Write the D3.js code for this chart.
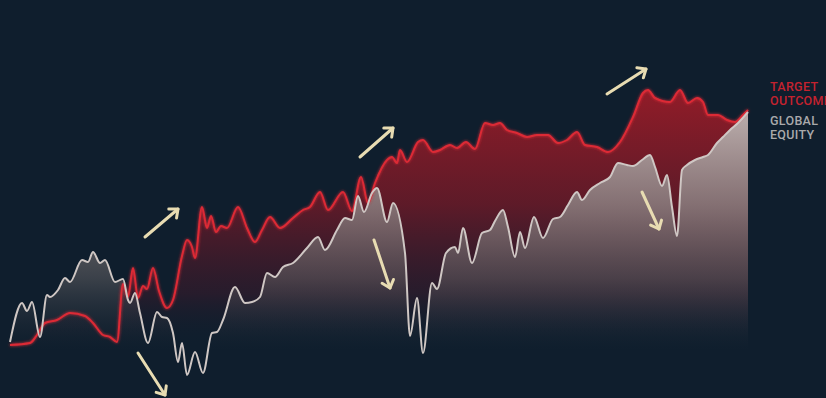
<!DOCTYPE html>
<html>
<head>
<meta charset="utf-8">
<script src="https://cdn.jsdelivr.net/npm/d3@7"></script>
<style>
  body { margin: 0; background: #0f1e2d; }
  svg { display: block; }
</style>
</head>
<body>
<div id="chart"></div>
<script>
// series: t = trading-day index, level = index level
const equityT = [0,12,17,22,30,37,40,48,55,60,72,78,83,90,95,105,113,118,120,125,130,138,147,152,157,163,168,172,177,185,193,202,207,213,225,235,242,250,257,265,273,283,297,308,315,327,335,342,348,354,362,367,377,383,395,400,407,413,422,427,436,445,448,453,462,472,480,485,493,498,505,510,515,524,533,543,550,558,567,572,580,590,600,608,617,623,632,640,645,652,657,662,667,672,677,685,693,698,707,713,720,728,738];
const equityLevel = [58,97,89,98,63,105,103,110,122,118,140,138,148,137,140,118,121,100,97,107,87,57,88,83,82,67,38,57,25,48,27,67,68,80,113,97,98,103,127,123,133,137,152,163,150,170,182,180,204,188,207,212,178,197,147,64,102,47,117,111,147,153,147,172,137,167,170,179,190,173,143,168,152,183,162,181,183,195,208,200,210,217,223,237,235,234,240,245,233,214,225,193,164,230,235,240,243,245,257,263,270,277,288];

const targetT = [0,20,27,35,47,60,75,83,93,100,107,113,118,123,128,133,137,143,149,157,163,172,177,182,185,192,197,201,206,211,217,228,237,245,252,260,270,283,293,300,310,318,333,342,351,358,365,377,382,387,390,397,408,413,423,430,440,447,456,465,475,483,490,497,507,517,527,538,548,557,567,575,587,598,610,623,633,638,645,660,670,678,687,693,698,708,717,725,733,738];
const targetLevel = [55,57,65,77,80,87,84,77,65,63,58,116,103,132,102,114,111,132,109,92,100,144,160,153,142,193,172,184,168,174,172,193,172,158,170,183,172,182,190,193,208,190,208,189,223,197,217,240,243,237,250,238,258,260,248,250,255,252,258,251,277,275,277,270,267,263,265,265,257,260,268,255,253,248,258,283,307,310,302,298,310,297,302,298,285,285,280,278,285,290];

// arrows: [t0, level0, t1, level1]
const arrows = [
  [135, 163, 168, 191],
  [128, 47, 155, 5],
  [350, 243, 383, 272],
  [364, 160, 380, 112],
  [597, 306, 636, 331],
  [632, 208, 649, 171]
];

const legendLabels = [
  {lines: ["TARGET", "OUTCOME"], color: "#c4222f"},
  {lines: ["GLOBAL", "EQUITY"], color: "#a9a9ab"}
];

const width = 826, height = 398;

const svg = d3.select("#chart")
  .append("svg")
  .attr("width", width)
  .attr("height", height)
  .style("background", "#0f1e2d");

const x = d3.scaleLinear().domain([0, 738]).range([10, 748]);
const y = d3.scaleLinear().domain([0, 300]).range([400, 100]);

const equity = equityT.map((t, i) => ({t: t, v: equityLevel[i]}));
const target = targetT.map((t, i) => ({t: t, v: targetLevel[i]}));

const defs = svg.append("defs");

// red fill fades out towards the bottom
const redGrad = defs.append("linearGradient")
  .attr("id", "redGrad")
  .attr("gradientUnits", "userSpaceOnUse")
  .attr("x1", 0).attr("x2", 0)
  .attr("y1", 90).attr("y2", 345);
redGrad.append("stop").attr("offset", 0).attr("stop-color", "#921c28").attr("stop-opacity", 1);
redGrad.append("stop").attr("offset", 0.45).attr("stop-color", "#661a28").attr("stop-opacity", 0.9);
redGrad.append("stop").attr("offset", 0.8).attr("stop-color", "#3a1a2b").attr("stop-opacity", 0.55);
redGrad.append("stop").attr("offset", 1).attr("stop-color", "#0f1e2d").attr("stop-opacity", 0);

const greyGrad = defs.append("linearGradient")
  .attr("id", "greyGrad")
  .attr("gradientUnits", "userSpaceOnUse")
  .attr("x1", 0).attr("x2", 0)
  .attr("y1", 110).attr("y2", 350);
greyGrad.append("stop").attr("offset", 0).attr("stop-color", "#bdb4b2").attr("stop-opacity", 0.97);
greyGrad.append("stop").attr("offset", 0.4).attr("stop-color", "#8a7e7f").attr("stop-opacity", 0.85);
greyGrad.append("stop").attr("offset", 0.7).attr("stop-color", "#676466").attr("stop-opacity", 0.5);
greyGrad.append("stop").attr("offset", 1).attr("stop-color", "#2c3440").attr("stop-opacity", 0);

const glow = defs.append("filter").attr("id", "glow")
  .attr("x", "-5%").attr("y", "-20%").attr("width", "110%").attr("height", "140%");
glow.append("feGaussianBlur").attr("stdDeviation", 1.6).attr("result", "b");
const merge = glow.append("feMerge");
merge.append("feMergeNode").attr("in", "b");
merge.append("feMergeNode").attr("in", "SourceGraphic");

defs.append("marker")
  .attr("id", "head")
  .attr("markerUnits", "userSpaceOnUse")
  .attr("viewBox", "-10 -10 20 20")
  .attr("markerWidth", 20).attr("markerHeight", 20)
  .attr("refX", 0).attr("refY", 0)
  .attr("orient", "auto")
  .append("path")
  .attr("d", "M-7,-6 L0,0 L-7,6")
  .attr("fill", "none")
  .attr("stroke", "#e8dcb2")
  .attr("stroke-width", 3)
  .attr("stroke-linecap", "round")
  .attr("stroke-linejoin", "round");

const curve = d3.curveMonotoneX;

const area = d3.area()
  .x(d => x(d.t))
  .y0(y(0))
  .y1(d => y(d.v))
  .curve(curve);

const line = d3.line()
  .x(d => x(d.t))
  .y(d => y(d.v))
  .curve(curve);

// fills
svg.append("path").datum(target).attr("d", area).attr("fill", "url(#redGrad)");
svg.append("path").datum(equity).attr("d", area).attr("fill", "url(#greyGrad)");

// lines
svg.append("path").datum(target)
  .attr("d", line)
  .attr("fill", "none")
  .attr("stroke", "#dc2a36")
  .attr("stroke-width", 2)
  .attr("stroke-linejoin", "round")
  .attr("filter", "url(#glow)");

svg.append("path").datum(equity)
  .attr("d", line)
  .attr("fill", "none")
  .attr("stroke", "#cfc7c4")
  .attr("stroke-width", 2)
  .attr("stroke-linejoin", "round");

// arrows
svg.append("g")
  .selectAll("line")
  .data(arrows)
  .join("line")
  .attr("x1", d => x(d[0]))
  .attr("y1", d => y(d[1]))
  .attr("x2", d => x(d[2]))
  .attr("y2", d => y(d[3]))
  .attr("stroke", "#e8dcb2")
  .attr("stroke-width", 3)
  .attr("stroke-linecap", "round")
  .attr("marker-end", "url(#head)");

// legend - the last word runs into the right edge, as in the original
const legend = svg.append("g").attr("transform", "translate(770,91)");
legendLabels.forEach((lab, i) => {
  lab.lines.forEach((txt, j) => {
    legend.append("text")
      .attr("x", 0)
      .attr("y", i * 34 + j * 14)
      .attr("fill", lab.color)
      .style("font-family", "Roboto, sans-serif")
      .style("font-weight", 500)
      .style("font-size", "12.5px")
      .style("letter-spacing", "0.3px")
      .text(txt);
  });
});
</script>
</body>
</html>
